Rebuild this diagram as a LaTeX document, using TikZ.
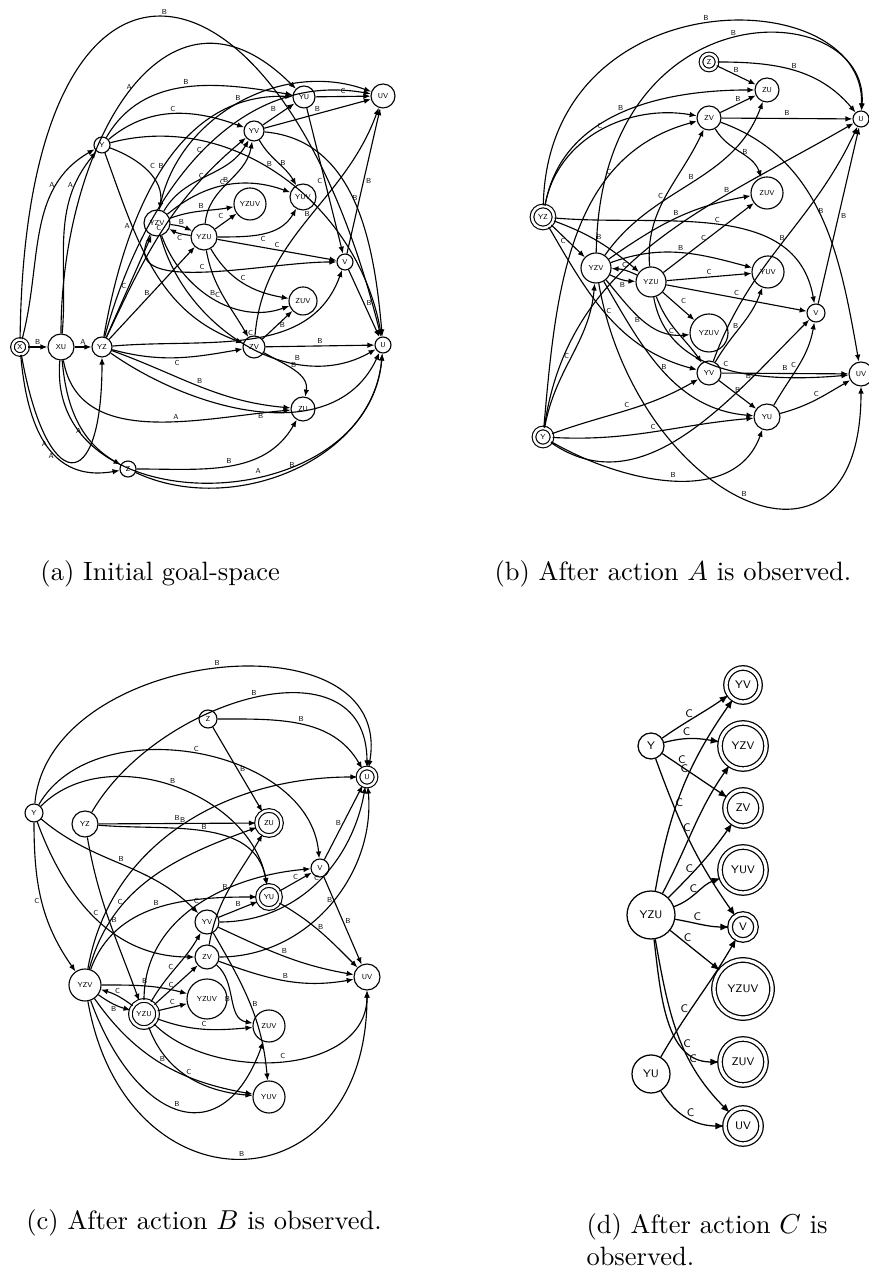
\documentclass[tikz,border=0pt]{standalone}
\usepackage{tikz}
\usetikzlibrary{arrows.meta}

\begin{document}
\begin{tikzpicture}[
    x=0.4pt, y=0.4pt,
    state/.style={circle, draw, line width=0.45pt, inner sep=0pt, minimum size=#1*0.4pt, font=\fontsize{2.9}{3}\sffamily},
    goal/.style={state=#1, double, double distance=1pt},
    bigstate/.style={circle, draw, line width=0.5pt, inner sep=0pt, minimum size=#1*0.4pt, font=\fontsize{4.4}{5}\sffamily},
    biggoal/.style={bigstate=#1, double, double distance=1.3pt},
    link/.style={-{Latex[length=2.8pt, width=2.2pt]}, line width=0.45pt},
    biglink/.style={-{Latex[length=3.6pt, width=2.8pt]}, line width=0.5pt},
    lbl/.style={font=\fontsize{2.9}{3}\sffamily, inner sep=0.8pt},
    biglbl/.style={font=\fontsize{4.4}{5}\sffamily, inner sep=1pt},
    caption/.style={font=\fontsize{10.6}{13}\selectfont, inner sep=0pt}
]
    \useasboundingbox (0,0) rectangle (868,1270);

    % (a) Initial goal-space
    \node[goal=15] (aX) at (20,923) {X};
    \node[state=26] (aXU) at (61,923) {XU};
    \node[state=20] (aYZ) at (102,923) {YZ};
    \node[state=16] (aY) at (102,1125) {Y};
    \node[state=26] (aYZV) at (157,1047) {YZV};
    \node[state=26] (aYZU) at (204,1033) {YZU};
    \node[state=32] (aYZUV) at (250,1066) {YZUV};
    \node[state=26] (aYUV) at (303,1073) {YUV};
    \node[state=22] (aYU) at (304,1173) {YU};
    \node[state=24] (aUV) at (383,1174) {UV};
    \node[state=20] (aYV) at (254,1139) {YV};
    \node[state=16] (aV) at (345,1008) {V};
    \node[state=28] (aZUV) at (303,969) {ZUV};
    \node[state=22] (aZV) at (254,923) {ZV};
    \node[state=16] (aU) at (383,925) {U};
    \node[state=24] (aZU) at (303,861) {ZU};
    \node[state=16] (aZ) at (128,801) {Z};

    \draw[link] (aX) -- node[lbl, above] {B} (aXU);
    \draw[link] (aXU) -- node[lbl, above] {A} (aYZ);
    \draw[link] (aX) to[out=75, in=210] node[lbl, pos=0.75, left] {A} (aY);
    \draw[link] (aXU) to[out=85, in=230] node[lbl, pos=0.8, left] {A} (aY);
    \draw[link] (aX) to[out=-85, in=190, looseness=1.2] node[lbl, pos=0.6, left] {A} (aZ);
    \draw[link] (aXU) to[out=-85, in=150] node[lbl, pos=0.6, left] {A} (aZ);
    \draw[link] (aX) to[out=-80, in=-90, looseness=4.5] node[lbl, pos=0.3, left] {A} (aYZ);
    \draw[link] (aXU) to[out=-80, in=185] node[lbl, pos=0.6, above] {A} (aZU);
    \draw[link] (aXU) to[out=-95, in=-95, looseness=1.33] node[lbl, pos=0.6, above] {A} (aU);
    \draw[link] (aX) .. controls +(5,457) and +(-103,415) .. node[lbl, above] {B} (aU);
    \draw[link] (aXU) to[out=90, in=135, looseness=1.4] node[lbl, above] {A} (aYU);
    \draw[link] (aY) to[out=60, in=170] node[lbl, above] {B} (aYU);
    \draw[link] (aYZ) to[out=80, in=178] node[lbl, above] {B} (aYU);
    \draw[link] (aY) to[out=40, in=160] node[lbl, above] {C} (aYV);
    \draw[link] (aYV) -- node[lbl, above left] {B} (aYU);
    \draw[link] (aYV) -- node[lbl, above] {B} (aUV);
    \draw[link] (aYU) -- node[lbl, above] {C} (aUV);
    \draw[link] (aYV) to[out=-60, in=120] node[lbl, right] {B} (aYUV);
    \draw[link] (aYV) to[out=-5, in=95] node[lbl, above] {B} (aU);
    \draw[link] (aYU) -- node[lbl, left] {C} (aV);
    \draw[link] (aY) to[out=15, in=100] node[lbl, pos=0.45, above] {B} (aU);
    \draw[link] (aY) to[out=-20, in=80] node[lbl, above right] {C} (aYZV);
    \draw[link] (aY) to[out=-70, in=160] node[lbl, pos=0.3, left] {A} (aZV);
    \draw[link] (aYZ) -- node[lbl, left] {C} (aYZV);
    \draw[link] (aYZ) -- node[lbl, left] {B} (aYZU);
    \draw[link] (aYZ) to[out=5, in=-110] node[lbl, above] {C} (aV);
    \draw[link] (aYZ) to[out=-15, in=190] node[lbl, below] {C} (aZV);
    \draw[link] (aYZ) to[out=-20, in=175] node[lbl, above] {B} (aZU);
    \draw[link] (aYZ) to[out=-35, in=-115] node[lbl, below] {B} (aU);
    \draw[link] (aYZV) to[bend left=10] node[lbl, above] {B} (aYZU);
    \draw[link] (aYZU) to[bend left=10] node[lbl, below] {C} (aYZV);
    \draw[link] (aYZV) to[out=20, in=190] node[lbl, above] {B} (aYZUV);
    \draw[link] (aYZU) -- node[lbl, above left] {C} (aYZUV);
    \draw[link] (aYZU) to[out=0, in=-120] node[lbl, below] {C} (aYUV);
    \draw[link] (aYZU) -- node[lbl, above] {C} (aV);
    \draw[link] (aYZV) to[out=-120, in=180] node[lbl, above] {C} (aV);
    \draw[link] (aYZU) to[out=-60, in=170] node[lbl, above] {C} (aZUV);
    \draw[link] (aYZU) to[out=-80, in=120] node[lbl, left] {C} (aZV);
    \draw[link] (aYZV) to[out=-70, in=200] node[lbl, above] {B} (aZUV);
    \draw[link] (aYZV) to[out=-75, in=-150] node[lbl, pos=0.7, above] {B} (aU);
    \draw[link] (aZV) -- node[lbl, above] {B} (aU);
    \draw[link] (aZV) -- node[lbl, right] {B} (aZUV);
    \draw[link] (aZV) to[out=-30, in=80] node[lbl, above] {B} (aZU);
    \draw[link] (aV) -- node[lbl, right] {B} (aU);
    \draw[link] (aV) -- node[lbl, right] {B} (aUV);
    \draw[link] (aZ) to[out=0, in=-120] node[lbl, above] {B} (aZU);
    \draw[link] (aZ) to[out=-25, in=-95] node[lbl, above] {B} (aU);
    \draw[link] (aYZV) to[out=60, in=-120] node[lbl, left] {C} (aYV);
    \draw[link] (aYZU) to[out=85, in=-100] node[lbl, left] {C} (aYV);
    \draw[link] (aYZV) to[out=80, in=160] node[lbl, above] {B} (aUV);
    \draw[link] (aYZ) to[out=75, in=170] node[lbl, above] {C} (aUV);
    \draw[link] (aZV) to[out=85, in=-110] node[lbl, above] {B} (aUV);
    \draw[link] (aYZV) to[out=40, in=160] node[lbl, above] {B} (aYUV);
    \draw[link] (aYZ) to[out=65, in=-140] node[lbl, left] {C} (aYV);

    % (b) After action A
    \node[goal=22] (bYZ) at (543,1053) {YZ};
    \node[goal=16] (bZ) at (709,1208) {Z};
    \node[state=24] (bZU) at (767,1180) {ZU};
    \node[state=24] (bZV) at (709,1152) {ZV};
    \node[state=16] (bU) at (861,1151) {U};
    \node[state=32] (bZUV) at (767,1077) {ZUV};
    \node[state=30] (bYZV) at (596,1002) {YZV};
    \node[state=30] (bYZU) at (651,988) {YZU};
    \node[state=32] (bYUV) at (768,998) {YUV};
    \node[state=18] (bV) at (816,957) {V};
    \node[state=38] (bYZUV) at (709,937) {YZUV};
    \node[state=24] (bYV) at (709,897) {YV};
    \node[state=24] (bUV) at (861,896) {UV};
    \node[state=26] (bYU) at (767,853) {YU};
    \node[goal=18] (bY) at (543,833) {Y};

    \draw[link] (bYZ) .. controls +(5,241) and +(5,138) .. node[lbl, above] {B} (bU);
    \draw[link] (bYZV) .. controls +(4,283) and +(9,124) .. node[lbl, above] {B} (bU);
    \draw[link] (bZ) -- node[lbl, above] {B} (bZU);
    \draw[link] (bZ) to[out=0, in=130] node[lbl, above] {B} (bU);
    \draw[link] (bYZ) to[out=80, in=180] node[lbl, above] {B} (bZU);
    \draw[link] (bZV) -- node[lbl, above] {B} (bZU);
    \draw[link] (bZV) -- node[lbl, above] {B} (bU);
    \draw[link] (bYZ) to[out=80, in=170] node[lbl, above] {C} (bZV);
    \draw[link] (bY) to[out=85, in=195] node[lbl, pos=0.7, above] {C} (bZV);
    \draw[link] (bYZU) to[out=95, in=-115] node[lbl, left] {C} (bZV);
    \draw[link] (bY) to[out=82, in=-150] node[lbl, pos=0.7, above] {B} (bU);
    \draw[link] (bZV) to[out=-60, in=110] node[lbl, right] {B} (bZUV);
    \draw[link] (bZV) to[out=-20, in=100] node[lbl, above] {B} (bUV);
    \draw[link] (bYZV) to[out=55, in=-110] node[lbl, above] {B} (bZU);
    \draw[link] (bYZV) to[out=35, in=190] node[lbl, above] {B} (bZUV);
    \draw[link] (bYZ) to[out=-20, in=140] node[lbl, above] {B} (bYZU);
    \draw[link] (bYZ) to[out=-5, in=100] node[lbl, above] {C} (bV);
    \draw[link] (bYZU) -- node[lbl, left] {C} (bZUV);
    \draw[link] (bV) -- node[lbl, right] {B} (bU);
    \draw[link] (bYV) to[out=70, in=-115] node[lbl, above] {B} (bU);
    \draw[link] (bYZ) -- node[lbl, left] {C} (bYZV);
    \draw[link] (bYZV) to[bend right=12] node[lbl, below] {B} (bYZU);
    \draw[link] (bYZU) to[bend right=12] node[lbl, above] {C} (bYZV);
    \draw[link] (bYZV) to[out=20, in=165] node[lbl, above] {B} (bYUV);
    \draw[link] (bYZU) -- node[lbl, above] {C} (bYUV);
    \draw[link] (bYZU) -- node[lbl, above] {C} (bV);
    \draw[link] (bYZU) -- node[lbl, above right] {C} (bYZUV);
    \draw[link] (bYZU) to[out=-70, in=125] node[lbl, left] {C} (bYV);
    \draw[link] (bYZV) to[out=-50, in=185] node[lbl, left] {B} (bYZUV);
    \draw[link] (bYV) to[out=60, in=-110] node[lbl, left] {B} (bYUV);
    \draw[link] (bYV) -- node[lbl, above] {B} (bUV);
    \draw[link] (bYZU) to[out=-80, in=185] node[lbl, above] {C} (bUV);
    \draw[link] (bYV) -- node[lbl, above] {B} (bYU);
    \draw[link] (bYU) to[out=15, in=-150] node[lbl, above] {C} (bUV);
    \draw[link] (bYU) to[out=60, in=-100] node[lbl, left] {C} (bV);
    \draw[link] (bY) to[out=20, in=-150] node[lbl, above] {C} (bYV);
    \draw[link] (bY) to[out=-3, in=185] node[lbl, above] {C} (bYU);
    \draw[link] (bY) to[out=-35, in=-135] node[lbl, pos=0.75, above] {B} (bV);
    \draw[link] (bY) to[out=-30, in=-110] node[lbl, above] {B} (bYU);
    \draw[link] (bYZV) to[out=-80, in=-90, looseness=2] node[lbl, above] {B} (bUV);
    \draw[link] (bYZV) to[out=-60, in=175] node[lbl, above] {B} (bYU);
    \draw[link] (bYZ) to[out=-60, in=165] node[lbl, above] {C} (bYV);
    \draw[link] (bY) to[out=80, in=-95] node[lbl, left] {C} (bYZV);

    % (c) After action B
    \node[state=18] (cY) at (34,457) {Y};
    \node[state=26] (cYZ) at (85,446) {YZ};
    \node[state=18] (cZ) at (208,551) {Z};
    \node[goal=18] (cU) at (367,493) {U};
    \node[goal=25] (cZU) at (269,447) {ZU};
    \node[state=18] (cV) at (320,402) {V};
    \node[goal=23] (cYU) at (269,373) {YU};
    \node[state=24] (cYV) at (207,348) {YV};
    \node[state=24] (cZV) at (207,313) {ZV};
    \node[state=32] (cYZV) at (85,285) {YZV};
    \node[goal=27] (cYZU) at (144,256) {YZU};
    \node[state=40] (cYZUV) at (207,271) {YZUV};
    \node[state=32] (cZUV) at (269,244) {ZUV};
    \node[state=26] (cUV) at (367,293) {UV};
    \node[state=32] (cYUV) at (269,173) {YUV};

    \draw[link] (cY) to[out=85, in=80, looseness=1.2] node[lbl, above] {B} (cU);
    \draw[link] (cYZ) to[out=60, in=90, looseness=1.2] node[lbl, above] {B} (cU);
    \draw[link] (cZ) to[out=0, in=120] node[lbl, above] {B} (cU);
    \draw[link] (cZ) -- node[lbl, right] {B} (cZU);
    \draw[link] (cY) to[out=60, in=95] node[lbl, above] {C} (cV);
    \draw[link] (cY) to[out=45, in=100] node[lbl, above] {B} (cYU);
    \draw[link] (cYZV) to[out=80, in=180] node[lbl, above] {B} (cU);
    \draw[link] (cYZ) -- node[lbl, above] {B} (cZU);
    \draw[link] (cYZ) to[out=-5, in=100] node[lbl, above] {B} (cYU);
    \draw[link] (cYZV) to[out=75, in=200] node[lbl, pos=0.3, above] {C} (cZU);
    \draw[link] (cYZ) to[out=-80, in=110] node[lbl, right] {B} (cYZU);
    \draw[link] (cY) to[out=-40, in=135] node[lbl, above] {B} (cYV);
    \draw[link] (cY) to[out=-70, in=180] node[lbl, above] {C} (cZV);
    \draw[link] (cY) to[out=-90, in=125] node[lbl, left] {C} (cYZV);
    \draw[link] (cYZU) to[out=90, in=185] node[lbl, above] {C} (cV);
    \draw[link] (cYU) -- node[lbl, above] {C} (cV);
    \draw[link] (cV) -- node[lbl, left] {B} (cU);
    \draw[link] (cYU) to[out=-30, in=135] node[lbl, above] {B} (cUV);
    \draw[link] (cV) -- node[lbl, right] {B} (cUV);
    \draw[link] (cZV) to[out=80, in=-120] node[lbl, left] {B} (cZU);
    \draw[link] (cYV) -- node[lbl, above] {B} (cYU);
    \draw[link] (cYV) to[out=0, in=-100] node[lbl, above] {C} (cU);
    \draw[link] (cYZV) to[out=70, in=180] node[lbl, above] {B} (cYU);
    \draw[link] (cZV) to[out=0, in=-85] node[lbl, above] {B} (cU);
    \draw[link] (cYV) to[out=-25, in=170] node[lbl, above] {B} (cUV);
    \draw[link] (cZV) to[out=-20, in=190] node[lbl, above] {B} (cUV);
    \draw[link] (cYZU) to[out=60, in=-120] node[lbl, left] {C} (cYV);
    \draw[link] (cYZU) -- node[lbl, left] {C} (cZV);
    \draw[link] (cYZV) to[out=0, in=165] node[lbl, above] {B} (cYZUV);
    \draw[link] (cYZU) to[bend right=10] node[lbl, above] {C} (cYZV);
    \draw[link] (cYZV) to[bend right=10] node[lbl, below] {B} (cYZU);
    \draw[link] (cYZU) -- node[lbl, above] {C} (cYZUV);
    \draw[link] (cYZU) to[out=-20, in=185] node[lbl, above] {C} (cZUV);
    \draw[link] (cYZU) to[out=-45, in=-90] node[lbl, above] {C} (cUV);
    \draw[link] (cZV) to[out=-40, in=170] node[lbl, left] {B} (cZUV);
    \draw[link] (cYV) to[out=-60, in=95] node[lbl, right] {B} (cYUV);
    \draw[link] (cYZU) to[out=-70, in=175] node[lbl, above] {C} (cYUV);
    \draw[link] (cYZV) to[out=-55, in=170] node[lbl, above] {B} (cYUV);
    \draw[link] (cYZV) to[out=-70, in=-110, looseness=1.8] node[lbl, above] {B} (cZUV);
    \draw[link] (cYZV) to[out=-80, in=-90, looseness=2] node[lbl, above] {B} (cUV);

    % (d) After action C
    \node[bigstate=26] (dY) at (651,524) {Y};
    \node[biggoal=34] (dYV) at (743,585) {YV};
    \node[biggoal=46] (dYZV) at (743,524) {YZV};
    \node[biggoal=36] (dZV) at (743,462) {ZV};
    \node[biggoal=46] (dYUV) at (743,400) {YUV};
    \node[bigstate=48] (dYZU) at (651,355) {YZU};
    \node[biggoal=26] (dV) at (743,343) {V};
    \node[biggoal=58] (dYZUV) at (743,281) {YZUV};
    \node[biggoal=46] (dZUV) at (743,208) {ZUV};
    \node[bigstate=38] (dYU) at (651,196) {YU};
    \node[biggoal=36] (dUV) at (743,144) {UV};

    \draw[biglink] (dY) to[out=35, in=-145] node[biglbl, pos=0.4, above] {C} (dYV);
    \draw[biglink] (dY) to[out=15, in=170] node[biglbl, pos=0.4, above] {C} (dYZV);
    \draw[biglink] (dY) -- node[biglbl, pos=0.3, above] {C} (dZV);
    \draw[biglink] (dY) to[out=-70, in=125] node[biglbl, pos=0.25, right] {C} (dV);
    \draw[biglink] (dYZU) to[out=80, in=-125] node[biglbl, pos=0.62, left] {C} (dYV);
    \draw[biglink] (dYZU) to[out=62, in=-125] node[biglbl, pos=0.5, left] {C} (dYZV);
    \draw[biglink] (dYZU) to[out=45, in=-125] node[biglbl, pos=0.4, left] {C} (dZV);
    \draw[biglink] (dYZU) to[out=20, in=-160] node[biglbl, pos=0.4, above] {C} (dYUV);
    \draw[biglink] (dYZU) to[out=-10, in=180] node[biglbl, pos=0.4, above] {C} (dV);
    \draw[biglink] (dYZU) -- node[biglbl, pos=0.35, above] {C} (dYZUV);
    \draw[biglink] (dYZU) to[out=-83, in=180] node[biglbl, pos=0.75, above] {C} (dZUV);
    \draw[biglink] (dYZU) to[out=-80, in=135] node[biglbl, pos=0.7, above] {C} (dUV);
    \draw[biglink] (dYU) to[out=60, in=-120] node[biglbl, pos=0.4, left] {C} (dV);
    \draw[biglink] (dYU) to[out=-60, in=180] node[biglbl, pos=0.55, above] {C} (dUV);

    % Captions
    \node[caption, anchor=west] (capA) at (40,696) {(a) Initial goal-space};
    \node[caption, anchor=west] (capB) at (494,696) {(b) After action $A$ is observed.};
    \node[caption] (capC) at (204,47) {(c) After action $B$ is observed.};
    \node[caption, anchor=north west, align=left] (capD) at (586,57) {(d) After action $C$ is\\observed.};
\end{tikzpicture}
\end{document}
